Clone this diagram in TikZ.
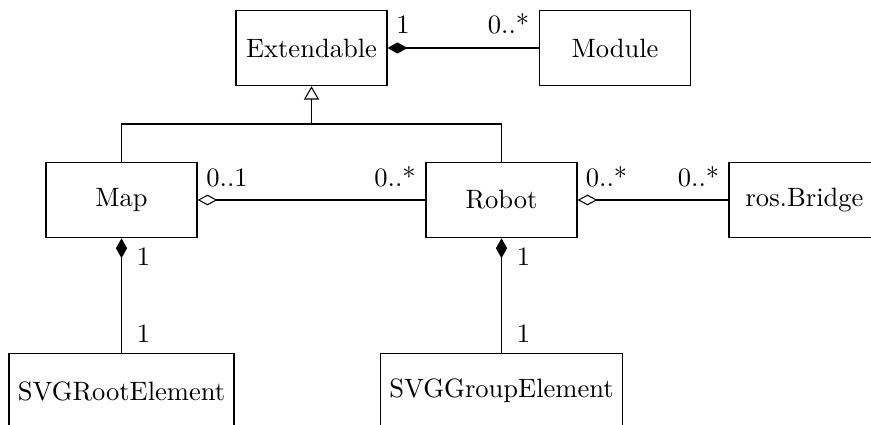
\documentclass[tikz,border=0pt]{standalone}
\usetikzlibrary{arrows.meta}
\begin{document}
\begin{tikzpicture}[x=0.013245cm,y=-0.013245cm,
  cls/.style={draw,rectangle,minimum width=2cm,minimum height=1cm,inner sep=0.3333em},
  mult/.style={anchor=base,inner sep=0pt},
  comp/.style={{Diamond[length=7.5pt,width=4.2pt]}-},
  aggr/.style={{Diamond[open,length=7.5pt,width=4pt]}-},
  inh/.style={-{Triangle[open,length=5pt,width=5.7pt]}}]
\useasboundingbox (0,0) rectangle (871,425);
\node[cls] (ext) at (311.5,48) {Extendable};
\node[cls] (mod) at (615,48) {Module};
\node[cls] (map) at (121.5,200) {Map};
\node[cls] (robot) at (501.5,200) {Robot};
\node[cls] (ros) at (804.5,200) {ros.Bridge};
\node[cls] (root) at (121.5,391) {SVGRootElement};
\node[cls] (group) at (501.5,391) {SVGGroupElement};
\coordinate (j) at (311.5,124);
\draw[comp] (ext.east) -- (mod.west);
\draw[inh] (j) -- (ext.south);
\draw (map.north) |- (j) -| (robot.north);
\draw[aggr] (map.east) -- (robot.west);
\draw[aggr] (robot.east) -- (ros.west);
\draw[comp] (map.south) -- (root.north);
\draw[comp] (robot.south) -- (group.north);
\node[mult] (m1) at (403,34) {1};
\node[mult] (m2) at (508.5,34) {0..*};
\node[mult] (m3) at (227,187) {0..1};
\node[mult] (m4) at (395,187) {0..*};
\node[mult] (m5) at (606.5,187) {0..*};
\node[mult] (m6) at (698.5,187) {0..*};
\node[mult] (m7) at (143.5,266) {1};
\node[mult] (m8) at (143.5,343) {1};
\node[mult] (m9) at (523.5,266) {1};
\node[mult] (m10) at (523.5,343) {1};
\end{tikzpicture}
\end{document}
